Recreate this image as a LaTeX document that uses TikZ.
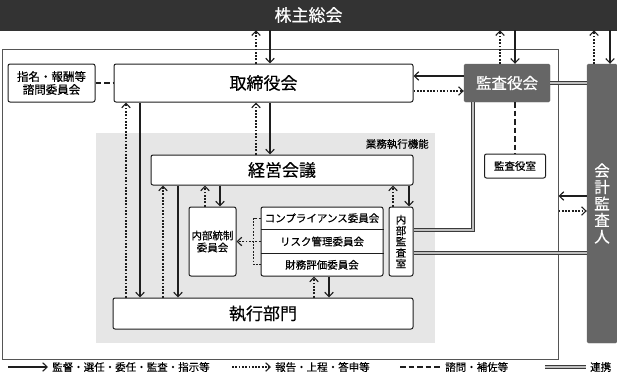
\documentclass[tikz,border=0pt]{standalone}
\usepackage{fontspec}
\setmainfont{Noto Sans CJK JP}[FakeBold=0.4]
\usetikzlibrary{arrows.meta,calc}
\definecolor{barc}{HTML}{333333}
\definecolor{midc}{HTML}{666666}
\definecolor{bgc}{HTML}{E6E6E6}
\definecolor{linec}{HTML}{1E1E1E}
\definecolor{framec}{HTML}{555555}
\definecolor{dblc}{HTML}{3A3A3A}
\begin{document}
\begin{tikzpicture}[x=1pt,y=-1pt,
  box/.style={draw=linec, line width=1pt, fill=white, rounded corners=2pt, inner sep=0pt, align=center},
  darkbox/.style={draw=midc, fill=midc, rounded corners=1.5pt, inner sep=0pt, text=white, align=center},
  tip/.style={-{Straight Barb[length=4.5pt,width=8.5pt,line width=1.1pt]}},
  sol/.style={tip, draw=linec, line width=1.2pt},
  dot/.style={tip, draw=linec, line width=1.2pt, dash pattern=on 1.8pt off 1.5pt},
  dotline/.style={draw=linec, line width=1.2pt, dash pattern=on 1.8pt off 1.5pt},
  dsh/.style={draw=linec, line width=1.3pt, dash pattern=on 5.5pt off 3pt},
  dbl/.style={draw=dblc, line width=0.9pt, double=white!75!black, double distance=1.3pt},
  big/.style={font=\fontsize{17}{19}\selectfont},
  mid/.style={font=\fontsize{15.5}{16}\selectfont},
  sm/.style={font=\fontsize{10.5}{12}\selectfont},
  leg/.style={font=\fontsize{10.5}{12}\selectfont, anchor=west, inner sep=0pt}
]
\useasboundingbox (0,0) rectangle (617,381);

% top bar
\node[fill=barc, draw=barc, minimum width=617pt, minimum height=30pt, inner sep=0pt, text=white, big] (kabu) at (308.5,15) {株主総会};

% outer company frame
\node[draw=framec, line width=1pt, minimum width=556pt, minimum height=310pt, inner sep=0pt] (outer) at (280,204) {};

% business execution area
\node[fill=bgc, minimum width=339pt, minimum height=210pt, inner sep=0pt] (gyomu) at (265.5,238) {};
\node[sm, anchor=east, inner sep=0pt] (gyomulbl) at (429,144) {業務執行機能};

% nodes
\node[box, minimum width=87pt, minimum height=38pt, font=\fontsize{11.5}{13}\selectfont] (shimei) at (51.5,83) {指名・報酬等\\諮問委員会};
\node[box, minimum width=299pt, minimum height=38pt, big] (tori) at (263.5,83) {取締役会};
\node[darkbox, minimum width=86pt, minimum height=38pt, mid] (kansa) at (507,83) {監査役会};
\node[darkbox, minimum width=30pt, minimum height=279pt, font=\fontsize{15.5}{16.5}\selectfont] (kaikei) at (602,203.5) {会\\計\\監\\査\\人};
\node[box, minimum width=61pt, minimum height=24pt, sm] (kshitsu) at (515,166) {監査役室};
\node[box, minimum width=262pt, minimum height=30pt, big] (keiei) at (282,170) {経営会議};
\node[box, minimum width=47pt, minimum height=69pt, sm] (naibu) at (212.5,241.5) {内部統制\\委員会};
\node[box, minimum width=122pt, minimum height=69pt] (comm) at (322,241.5) {};
\node[sm, inner sep=0pt] (c1) at ($(comm.north)!1/6!(comm.south)$) {コンプライアンス委員会};
\node[sm, inner sep=0pt] (c2) at (comm.center) {リスク管理委員会};
\node[sm, inner sep=0pt] (c3) at ($(comm.north)!5/6!(comm.south)$) {財務評価委員会};
\draw[draw=linec, line width=0.7pt] ($(comm.north west)!1/3!(comm.south west)$) -- ($(comm.north east)!1/3!(comm.south east)$);
\draw[draw=linec, line width=0.7pt] ($(comm.north west)!2/3!(comm.south west)$) -- ($(comm.north east)!2/3!(comm.south east)$);
\node[box, minimum width=24pt, minimum height=69pt, font=\fontsize{10.5}{11}\selectfont] (naikan) at (401,241.5) {内\\部\\監\\査\\室};
\node[box, minimum width=300pt, minimum height=31pt, big] (shikkou) at (263,313.5) {執行部門};

% shareholders connections
\draw[sol] (kabu.south -| 270,0) -- (tori.north -| 270,0);
\draw[dot] (tori.north -| 256,0) -- (kabu.south -| 256,0);
\draw[sol] (kabu.south -| 515,0) -- (kansa.north -| 515,0);
\draw[dot] (kansa.north -| 500,0) -- (kabu.south -| 500,0);
\draw[sol] (kabu.south -| 610,0) -- (kaikei.north -| 610,0);
\draw[dot] (kaikei.north -| 594,0) -- (kabu.south -| 594,0);

% board <-> auditors
\draw[sol] (kansa.west |- 0,76) -- (tori.east |- 0,76);
\draw[dot] (tori.east |- 0,91) -- (kansa.west |- 0,91);
\draw[dsh] (shimei.east) -- (tori.west);

% auditor links
\draw[dbl] (kansa.east) -- (kaikei.west |- kansa.east);
\draw[dsh] (kansa.south -| kshitsu.north) -- (kshitsu.north);
\draw[dbl] (kansa.south -| 473,0) |- (naikan.east |- 0,230);
\draw[dbl] (naikan.east |- 0,253) -- (kaikei.west |- 0,253);

% accounting auditor <-> company
\draw[sol] (kaikei.west |- 0,196) -- (outer.east |- 0,196);
\draw[dot] (outer.east |- 0,211) -- (kaikei.west |- 0,211);

% board -> management
\draw[sol] (tori.south -| 270,0) -- (keiei.north -| 270,0);
\draw[dot] (keiei.north -| 256,0) -- (tori.south -| 256,0);
\draw[sol] (tori.south -| 140,0) -- (shikkou.north -| 140,0);
\draw[dot] (shikkou.north -| 126,0) -- (tori.south -| 126,0);

% management meeting
\draw[sol] (keiei.south -| 178,0) -- (shikkou.north -| 178,0);
\draw[dot] (shikkou.north -| 163,0) -- (keiei.south -| 163,0);
\draw[sol] (keiei.south -| 220,0) -- (naibu.north -| 220,0);
\draw[dot] (naibu.north -| 205,0) -- (keiei.south -| 205,0);
\draw[sol] (keiei.south -| 409,0) -- (naikan.north -| 409,0);
\draw[dot] (naikan.north -| 393,0) -- (keiei.south -| 393,0);

% committees
\draw[sol] (comm.south -| 329,0) -- (shikkou.north -| 329,0);
\draw[dot] (shikkou.north -| 314,0) -- (comm.south -| 314,0);
\draw[dotline] (comm.west |- c1) -- ++(-7,0) |- (comm.west |- c3);
\draw[dot] (comm.west |- c2) -- (naibu.east |- c2);

% legend
\coordinate (l1a) at (8,367); \coordinate (l1b) at (48,367);
\draw[sol] (l1a) -- (l1b);
\node[leg] (lt1) at (52,367) {監督・選任・委任・監査・指示等};
\coordinate (l2a) at (232,367); \coordinate (l2b) at (271,367);
\draw[dot] (l2a) -- (l2b);
\node[leg] (lt2) at (275,367) {報告・上程・答申等};
\coordinate (l3a) at (400,367); \coordinate (l3b) at (440,367);
\draw[dsh] (l3a) -- (l3b);
\node[leg] (lt3) at (445,367) {諮問・補佐等};
\coordinate (l4a) at (545,367); \coordinate (l4b) at (586,367);
\draw[dbl] (l4a) -- (l4b);
\node[leg] (lt4) at (590,367) {連携};
\end{tikzpicture}
\end{document}
